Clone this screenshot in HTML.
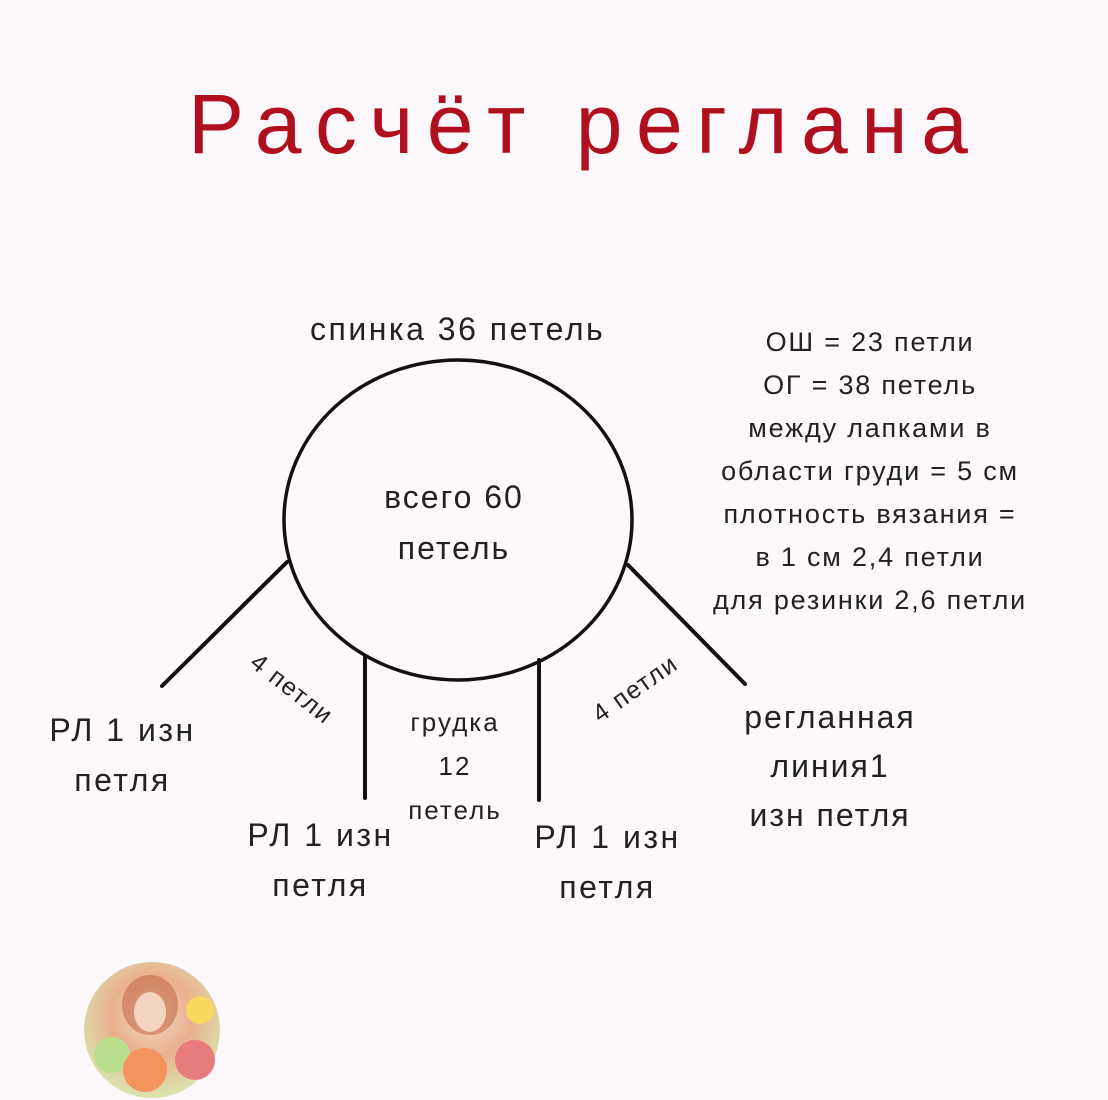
<!DOCTYPE html>
<html><head><meta charset="utf-8"><style>
html,body{margin:0;padding:0;background:#fdf8fc;}
body{width:1108px;height:1100px;position:relative;overflow:hidden;font-family:"Liberation Sans","DejaVu Sans",sans-serif;}
.t{position:absolute;color:#222;white-space:nowrap;}
</style></head><body>
<div class="t" style="left:188px;top:76px;font-size:84px;color:#b0101e;letter-spacing:13.5px;">Расчёт реглана</div>
<svg width="1108" height="1100" style="position:absolute;left:0;top:0">
<ellipse cx="458" cy="520" rx="174" ry="160" fill="none" stroke="#111" stroke-width="3.5"/>
<g stroke="#111" stroke-width="4" stroke-linecap="round">
<line x1="287" y1="562" x2="162" y2="686"/>
<line x1="365" y1="657" x2="365" y2="798"/>
<line x1="539" y1="660" x2="539" y2="800"/>
<line x1="628" y1="565" x2="745" y2="684"/>
</g>
<defs><radialGradient id="g" cx="50%" cy="40%" r="60%"><stop offset="0" stop-color="#f3d9c6"/><stop offset="0.5" stop-color="#e9b08e"/><stop offset="1" stop-color="#d9e6b0"/></radialGradient></defs>
<circle cx="152" cy="1030" r="68" fill="url(#g)"/>
<ellipse cx="150" cy="1005" rx="28" ry="30" fill="#c56a4a" opacity="0.6"/>
<ellipse cx="150" cy="1012" rx="16" ry="20" fill="#f5d5c2"/>
<circle cx="112" cy="1055" r="18" fill="#b8e08c"/>
<circle cx="145" cy="1070" r="22" fill="#f5935f"/>
<circle cx="195" cy="1060" r="20" fill="#e97c7c"/>
<circle cx="200" cy="1010" r="14" fill="#f7d860"/>
</svg>
<div class="t" style="left:310px;top:311px;font-size:32px;letter-spacing:2.5px;">спинка 36 петель</div>
<div class="t" style="left:354px;top:472px;width:200px;text-align:center;font-size:32px;line-height:51px;letter-spacing:2px;">всего 60<br>петель</div>
<div class="t" style="left:690px;top:321px;width:360px;text-align:center;font-size:27px;line-height:43px;letter-spacing:1.8px;">ОШ = 23 петли<br>ОГ = 38 петель<br>между лапками в<br>области груди = 5 см<br>плотность вязания =<br>в 1 см 2,4 петли<br>для резинки 2,6 петли</div>
<div class="t" style="left:30px;top:705px;width:185px;text-align:center;font-size:32px;line-height:50px;letter-spacing:2.5px;">РЛ 1 изн<br>петля</div>
<div class="t" style="left:228px;top:810px;width:185px;text-align:center;font-size:32px;line-height:50px;letter-spacing:2.5px;">РЛ 1 изн<br>петля</div>
<div class="t" style="left:515px;top:812px;width:185px;text-align:center;font-size:32px;line-height:50px;letter-spacing:2.5px;">РЛ 1 изн<br>петля</div>
<div class="t" style="left:730px;top:693px;width:200px;text-align:center;font-size:32px;line-height:49px;letter-spacing:2px;">регланная<br>линия1<br>изн петля</div>
<div class="t" style="left:385px;top:700px;width:140px;text-align:center;font-size:26px;line-height:44px;letter-spacing:2px;">грудка<br>12<br>петель</div>
<div class="t" style="left:262px;top:648px;font-size:25px;letter-spacing:1.5px;transform:rotate(38deg);transform-origin:left top;">4 петли</div>
<div class="t" style="left:604px;top:700px;font-size:25px;letter-spacing:1.5px;transform:rotate(-35deg);transform-origin:left bottom;">4 петли</div>
</body></html>
